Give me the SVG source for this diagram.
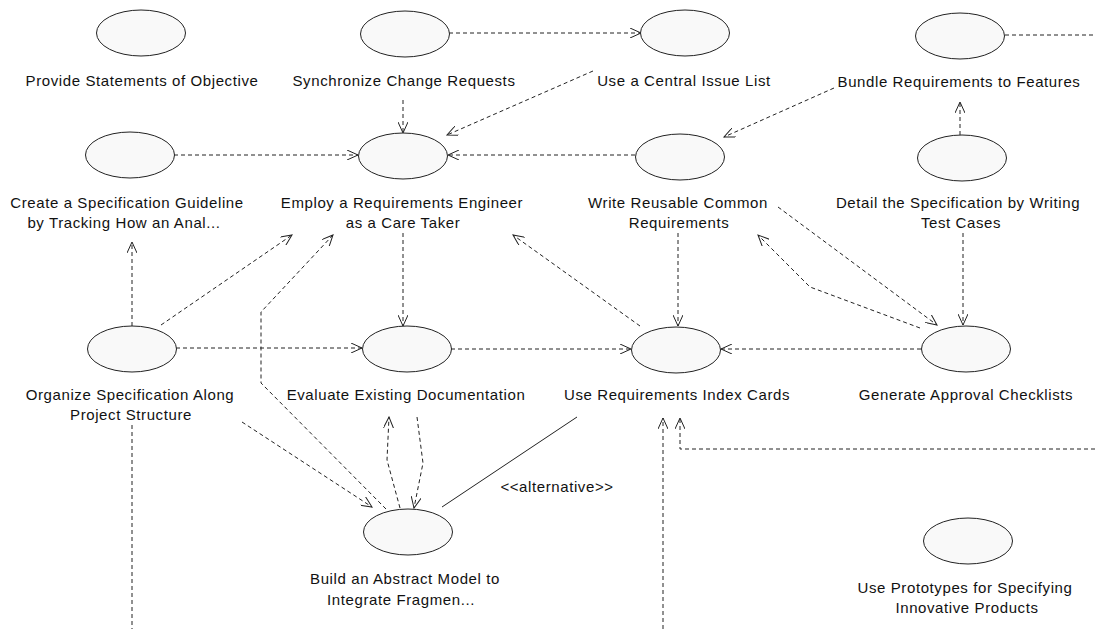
<svg xmlns="http://www.w3.org/2000/svg" width="1095" height="629" viewBox="0 0 1095 629">
<defs>
<style>
.uc{fill:#f9f9f9;stroke:#222;stroke-width:1}
.lb{font-family:"Liberation Sans",Arial,sans-serif;font-size:15px;letter-spacing:0.6px;fill:#111;text-anchor:middle}
.dep{fill:none;stroke:#222;stroke-width:1;stroke-dasharray:4 3}
.ar{marker-end:url(#open)}
.sol{fill:none;stroke:#222;stroke-width:1}
</style>
<marker id="open" viewBox="0 0 12 10" refX="11" refY="5" markerWidth="12" markerHeight="10" markerUnits="userSpaceOnUse" orient="auto">
<path d="M0,0 L11,5 L0,10" fill="none" stroke="#222" stroke-width="1"/>
</marker>
</defs>
<rect width="1095" height="629" fill="#fff"/>
<g id="connectors">
<path class="dep ar" d="M449,33 L641,33"/>
<path class="dep ar" d="M403,100 L403,133"/>
<path class="dep ar" d="M593,71 L447,135"/>
<path class="dep ar" d="M174,155 L358,155"/>
<path class="dep ar" d="M635,155 L448,155"/>
<path class="dep ar" d="M834,88 L724,137"/>
<path class="dep ar" d="M960,135 L960,102"/>
<path class="dep" d="M1005,35 L1095,35"/>
<path class="dep ar" d="M132,326 L132,242"/>
<path class="dep ar" d="M161,325 L292,235"/>
<path class="dep ar" d="M386,509 L261,383 L261,312 L333,235"/>
<path class="dep ar" d="M403,233 L403,326"/>
<path class="dep ar" d="M640,326 L513,235"/>
<path class="dep ar" d="M678,233 L678,326"/>
<path class="dep ar" d="M778,207 L937,325"/>
<path class="dep ar" d="M920,328 L810,287 L758,235"/>
<path class="dep ar" d="M963,233 L963,325"/>
<path class="dep ar" d="M176,348 L362,348"/>
<path class="dep ar" d="M451,349 L631,349"/>
<path class="dep ar" d="M921,349 L721,349"/>
<path class="dep ar" d="M242,422 L372,507"/>
<path class="dep ar" d="M417,417 L423,463 L414,508"/>
<path class="dep ar" d="M400,508 L387,460 L389,417"/>
<path class="sol" d="M442,507 L577,417"/>
<text class="lb" x="557" y="492">&lt;&lt;alternative&gt;&gt;</text>
<path class="dep" d="M132,425 L132,629"/>
<path class="dep ar" d="M663,629 L663,418"/>
<path class="dep ar" d="M1095,449 L680,449 L680,418"/>
</g>
<g id="provide"><ellipse class="uc" cx="141" cy="33" rx="44.5" ry="23"/><text class="lb" x="142" y="86">Provide Statements of Objective</text></g>
<g id="sync"><ellipse class="uc" cx="405" cy="34" rx="44.5" ry="23"/><text class="lb" x="404" y="86">Synchronize Change Requests</text></g>
<g id="central"><ellipse class="uc" cx="685" cy="33" rx="44.5" ry="23"/><text class="lb" x="684" y="86">Use a Central Issue List</text></g>
<g id="bundle"><ellipse class="uc" cx="960" cy="36" rx="44.5" ry="23"/><text class="lb" x="959" y="87">Bundle Requirements to Features</text></g>
<g id="create"><ellipse class="uc" cx="130" cy="155" rx="44.5" ry="23"/><text class="lb" x="127" y="208">Create a Specification Guideline</text><text class="lb" x="124" y="228">by Tracking How an Anal...</text></g>
<g id="employ"><ellipse class="uc" cx="403" cy="156" rx="44.5" ry="23"/><text class="lb" x="402" y="208">Employ a Requirements Engineer</text><text class="lb" x="403" y="228">as a Care Taker</text></g>
<g id="write"><ellipse class="uc" cx="680" cy="157" rx="44.5" ry="23"/><text class="lb" x="678" y="208">Write Reusable Common</text><text class="lb" x="679" y="228">Requirements</text></g>
<g id="detail"><ellipse class="uc" cx="962" cy="158" rx="44.5" ry="23"/><text class="lb" x="958" y="208">Detail the Specification by Writing</text><text class="lb" x="961" y="228">Test Cases</text></g>
<g id="organize"><ellipse class="uc" cx="132" cy="349" rx="44.5" ry="23"/><text class="lb" x="130" y="400">Organize Specification Along</text><text class="lb" x="131" y="420">Project Structure</text></g>
<g id="evaluate"><ellipse class="uc" cx="407" cy="349" rx="44.5" ry="23"/><text class="lb" x="406" y="400">Evaluate Existing Documentation</text></g>
<g id="index"><ellipse class="uc" cx="676" cy="350" rx="44.5" ry="23"/><text class="lb" x="677" y="400">Use Requirements Index Cards</text></g>
<g id="generate"><ellipse class="uc" cx="966" cy="349" rx="44.5" ry="23"/><text class="lb" x="966" y="400">Generate Approval Checklists</text></g>
<g id="build"><ellipse class="uc" cx="408" cy="532" rx="44.5" ry="23"/><text class="lb" x="405" y="584">Build an Abstract Model to</text><text class="lb" x="401" y="605">Integrate Fragmen...</text></g>
<g id="prototypes"><ellipse class="uc" cx="968" cy="541" rx="44.5" ry="23"/><text class="lb" x="965" y="593">Use Prototypes for Specifying</text><text class="lb" x="967" y="613">Innovative Products</text></g>
</svg>
